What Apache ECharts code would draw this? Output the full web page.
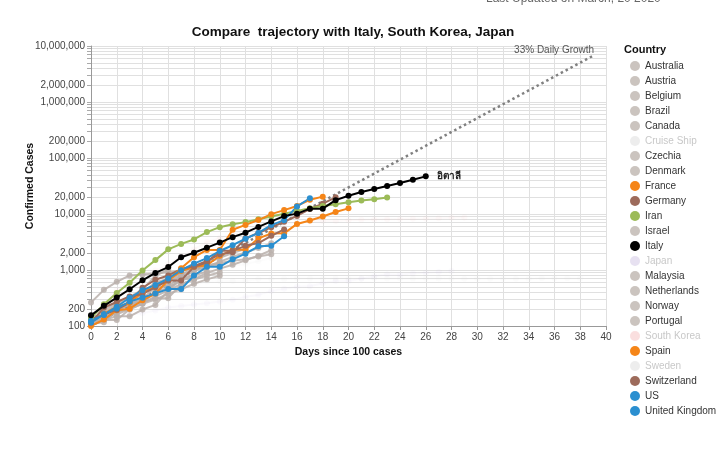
<!DOCTYPE html>
<html><head><meta charset="utf-8">
<script src="https://cdn.jsdelivr.net/npm/echarts@6/dist/echarts.min.js"></script>
<style>html,body{margin:0;padding:0;background:#fff}#c{width:720px;height:451px}</style>
</head><body><div id="c"></div>
<script>
// ---- data (confirmed cases by day since 100 cases) ----
const australia   = [107,128,128,200,250,297,377,452,568,681,791];
const austria     = [104,131,182,246,302,504,655,860,1018,1332,1646,2013,2388];
const belgium     = [109,169,200,239,267,314,314,559,689,886,1058,1243,1486,1795,2257];
const brazil      = [151,151,162,200,321,372,621,793];
const canada      = [108,117,193,198,252,415,478,657,800,943];
const cruiseShip  = [135,135,175,175,218,285,355,454,542,621,634,634,634,691,691,691,705,705,705,705,705,705,705,705,705,706,706,706,696,696,696,696,696,696,696,712,712,712,712];
const czechia     = [116,141,189,253,298,396,464,694,833];
const denmark     = [262,442,615,801,827,864,914,977,1057,1151,1255];
const france      = [100,130,191,204,288,380,656,957,1134,1217,1792,2289,2289,3672,4480,4513,6650,7652,9043,10871,12612];
const germany     = [130,159,196,262,482,670,799,1040,1176,1457,1908,2078,3675,4585,5795,7272,9257,12327,15320,19848];
const iran        = [139,245,388,593,978,1501,2336,2922,3513,4747,5823,6566,7161,8042,9000,10075,11364,12729,13938,14991,16169,17361,18407,19644];
const israel      = [109,131,193,251,255,337,433,677,705];
const italy       = [155,229,322,453,655,888,1128,1694,2036,2502,3089,3858,4636,5883,7375,9172,10149,12462,12462,17660,21157,24747,27980,31506,35713,41035,47021];
const japan       = [105,122,147,159,170,189,214,228,241,256,274,293,331,360,420,461,502,511,581,639,639,701,773,839,825,878,889,924,963];
const malaysia    = [117,129,149,149,197,238,428,566,673,790,900];
const netherlands = [128,188,265,321,382,503,503,804,959,1135,1413,1705,2051,2460,2994];
const norway      = [108,147,176,205,400,598,702,996,1090,1221,1333,1463,1550,1746,1914];
const portugal    = [112,169,245,331,448,785,1020];
const southKorea  = [104,204,433,602,833,977,1261,1766,2337,3150,3736,4335,5186,5621,6088,6593,7041,7314,7478,7513,7755,7869,7979,8086,8162,8236,8320,8413,8565,8652];
const spain       = [120,165,222,259,400,500,673,1073,1695,2277,2277,5232,6391,7798,9942,11748,13910,17963,20410];
const sweden      = [101,161,203,248,355,500,599,814,961,1022,1103,1190,1279,1439,1639];
const switzerland = [114,214,268,337,374,491,652,652,1139,1359,2200,2200,2700,3028,4075,5294];
const us          = [124,158,221,319,435,541,704,994,1301,1630,2183,2770,3613,4596,6344,7769,13680,19101];
const uk          = [115,163,206,273,321,382,456,456,798,1140,1145,1551,1960,2642,2716,4014];

const growthDays   = [0, 39];
const growthValues = [100, 6700000];

const yTickLabels = [100, 200, 1000, 2000, 10000, 20000, 100000, 200000, 1000000, 2000000, 10000000];
const xTickLabels = [0,2,4,6,8,10,12,14,16,18,20,22,24,26,28,30,32,34,36,38,40];

// ---- styling ----
const GREY = '#bab0ac';
const countries = [
  ['Australia', australia, GREY, 'grey'],
  ['Austria', austria, GREY, 'grey'],
  ['Belgium', belgium, GREY, 'grey'],
  ['Brazil', brazil, GREY, 'grey'],
  ['Canada', canada, GREY, 'grey'],
  ['Cruise Ship', cruiseShip, '#d8d8d8', 'faded'],
  ['Czechia', czechia, GREY, 'grey'],
  ['Denmark', denmark, GREY, 'grey'],
  ['France', france, '#f58518', 'hi'],
  ['Germany', germany, '#9d6b5b', 'hi'],
  ['Iran', iran, '#9cbb58', 'hi'],
  ['Israel', israel, GREY, 'grey'],
  ['Italy', italy, '#000000', 'top'],
  ['Japan', japan, '#c9bde0', 'faded'],
  ['Malaysia', malaysia, GREY, 'grey'],
  ['Netherlands', netherlands, GREY, 'grey'],
  ['Norway', norway, GREY, 'grey'],
  ['Portugal', portugal, GREY, 'grey'],
  ['South Korea', southKorea, '#f4b8b8', 'faded'],
  ['Spain', spain, '#f58518', 'hi'],
  ['Sweden', sweden, '#d8d8d8', 'faded'],
  ['Switzerland', switzerland, '#9d6b5b', 'hi'],
  ['US', us, '#2b8fd0', 'hi'],
  ['United Kingdom', uk, '#2b8fd0', 'hi']
];

const yMinorTicks = [];
for (let e = 2; e < 7; e++) for (let m = 1; m < 10; m++) yMinorTicks.push(m * Math.pow(10, e));
yMinorTicks.push(1e7);

const FONT = 'Liberation Sans, Arial, sans-serif';
const zOf = {faded: 1, grey: 2, hi: 3, top: 4};

const series = [{
  type: 'line', name: 'growth', silent: true, z: 0,
  data: growthDays.map((d, i) => [d, growthValues[i]]),
  symbol: 'none',
  lineStyle: {color: '#808080', width: 2.5, type: [2.5, 3]},
  endLabel: {show: true, formatter: '33% Daily Growth', align: 'right', verticalAlign: 'bottom',
    distance: 1, fontSize: 10, color: '#555', fontFamily: FONT}
}];
countries.forEach(([name, vals, color, kind]) => {
  const op = kind === 'faded' ? 0.07 : (kind === 'grey' ? 0.85 : 1);
  const s = {
    type: 'line', name: name, z: zOf[kind],
    data: vals.map((v, i) => [i, v]),
    symbol: 'circle', symbolSize: 6, showSymbol: true,
    lineStyle: {color: color, width: 2, opacity: op},
    itemStyle: {color: color, opacity: op},
    emphasis: {disabled: true}
  };
  if (name === 'Italy') {
    s.endLabel = {show: true, formatter: 'อิตาลี', distance: 11, fontSize: 10, fontWeight: 'bold', color: '#222'};
  }
  series.push(s);
});

const legendData = countries.map(([name, vals, color, kind]) => {
  const item = {name: name, itemStyle: {color: color, opacity: 1, borderWidth: 0}};
  if (kind === 'faded') {
    item.textStyle = {color: '#c8c8c8'};
    item.itemStyle = {color: color, opacity: 0.45, borderWidth: 0};
  }
  if (kind === 'grey') item.itemStyle = {color: '#c2bab4', borderWidth: 0};
  return item;
});

const chart = echarts.init(document.getElementById('c'));
chart.setOption({
  animation: false,
  textStyle: {fontFamily: FONT},
  title: {text: 'Compare  trajectory with Italy, South Korea, Japan', left: 348, textAlign: 'center', top: 20,
    textStyle: {fontSize: 13.5, fontWeight: 'bold', color: '#111', fontFamily: FONT}},
  graphic: [
    {type: 'text', left: 486, top: -7.5, style: {text: 'Last Updated on March, 20 2020', fontSize: 12, fill: '#666', fontFamily: FONT}},
    {type: 'text', left: 624, top: 44, style: {text: 'Country', fontSize: 11, fontWeight: 'bold', fill: '#111', fontFamily: FONT}},
    {type: 'text', x: 30, y: 186, rotation: Math.PI / 2,
      style: {text: 'Confirmed Cases', fontSize: 10.5, fontWeight: 'bold', fill: '#111', align: 'center', verticalAlign: 'middle', fontFamily: FONT}}
  ],
  grid: {left: 91, right: 114, top: 46, bottom: 125},
  xAxis: {
    type: 'value', min: 0, max: 40, interval: 2,
    name: 'Days since 100 cases', nameLocation: 'middle', nameGap: 20,
    nameTextStyle: {fontWeight: 'bold', fontSize: 10.5, color: '#111'},
    axisLine: {show: true, onZero: false, lineStyle: {color: '#999'}},
    axisTick: {show: true, length: 4, lineStyle: {color: '#999'}},
    axisLabel: {fontSize: 10, color: '#444', margin: 6, customValues: xTickLabels},
    splitLine: {show: true, lineStyle: {color: '#e0e0e0', width: 1}}
  },
  yAxis: {
    type: 'log', logBase: 10, min: 100, max: 10000000,
    axisLine: {show: true, lineStyle: {color: '#999'}},
    axisTick: {show: true, length: 4, customValues: yMinorTicks, lineStyle: {color: '#aaa'}},
    axisLabel: {fontSize: 10, color: '#444', margin: 6, customValues: yTickLabels,
      formatter: v => Number(v).toLocaleString('en-US')},
    splitLine: {show: true, lineStyle: {color: '#e0e0e0', width: 1}}
  },
  legend: {
    orient: 'vertical', left: 625, top: 56, icon: 'circle',
    itemWidth: 10, itemHeight: 10, itemGap: 5, selectedMode: false,
    textStyle: {fontSize: 10, color: '#333', lineHeight: 10, fontFamily: FONT},
    data: legendData
  },
  series: series
});
</script></body></html>
